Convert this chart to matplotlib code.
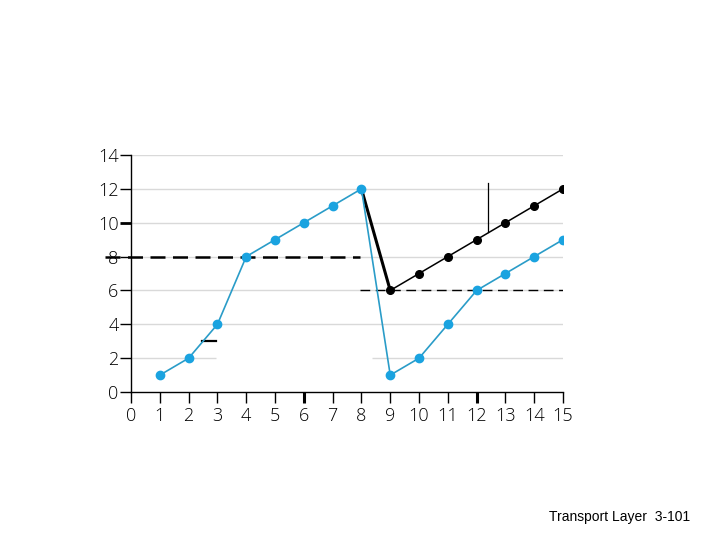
import matplotlib.pyplot as plt

# Data (TCP congestion window, transmission rounds)
rounds_blue = [1, 2, 3, 4, 5, 6, 7, 8, 9, 10, 11, 12, 13, 14, 15]
cwnd_blue = [1, 2, 4, 8, 9, 10, 11, 12, 1, 2, 4, 6, 7, 8, 9]
rounds_black = [8, 9, 10, 11, 12, 13, 14, 15]
cwnd_black = [12, 6, 7, 8, 9, 10, 11, 12]
x_ticks = list(range(0, 16))
y_ticks = list(range(0, 15, 2))

BLUE_LINE = "#2a9cc8"
BLUE_DOT = "#1aa3e0"
GRID = "#d9d9d9"

plt.rcParams["font.family"] = ["Open Sans", "DejaVu Sans"]

fig = plt.figure(figsize=(7.2, 5.4), dpi=100)
ax = fig.add_axes([0.182, 0.274, 0.6, 0.439])
ax.set_xlim(0, 15)
ax.set_ylim(0, 14)

# light horizontal grid
for y in y_ticks[1:]:
    if y == 2:
        ax.hlines(y, 0, 2.95, color=GRID, lw=1, zorder=0)
        ax.hlines(y, 8.35, 15, color=GRID, lw=1, zorder=0)
    else:
        ax.hlines(y, 0, 15, color=GRID, lw=1, zorder=0)

# thresholds
ax.plot([-0.9, 7.95], [8, 8], color="black", lw=1.8, ls=(0, (6, 3)), clip_on=False, zorder=2)
ax.plot([7.95, 15], [6, 6], color="black", lw=1.0, ls=(0, (7, 4)), zorder=2)
ax.plot([2.45, 2.95], [3, 3], color="black", lw=1.6, zorder=2)
ax.plot([12.38, 12.38], [12.35, 9.45], color="black", lw=0.9, zorder=2)

# black curve
ax.plot(rounds_black[:2], cwnd_black[:2], color="black", lw=2.2, zorder=3)
ax.plot(rounds_black[1:], cwnd_black[1:], color="black", lw=1.1, zorder=3)
ax.plot(rounds_black[1:], cwnd_black[1:], ls="none", marker="o", ms=5.5,
        color="black", zorder=4)

# blue curve
ax.plot(rounds_blue, cwnd_blue, color=BLUE_LINE, lw=1.2, marker="o", ms=6,
        markerfacecolor=BLUE_DOT, markeredgecolor=BLUE_DOT, zorder=5)

for s in ["top", "right"]:
    ax.spines[s].set_visible(False)
for s in ["left", "bottom"]:
    ax.spines[s].set_linewidth(1.0)

ax.set_xticks(x_ticks)
ax.set_yticks(y_ticks)
ax.tick_params(axis="both", labelsize=13, length=8, width=1, colors="black")
ax.tick_params(axis="x", pad=3)
ax.tick_params(axis="y", pad=1)
for lbl in ax.get_xticklabels() + ax.get_yticklabels():
    lbl.set_fontweight("light")
for i, t in enumerate(ax.xaxis.get_major_ticks()):
    if x_ticks[i] in (6, 12):
        t.tick1line.set_markeredgewidth(2.2)
for i, t in enumerate(ax.yaxis.get_major_ticks()):
    if y_ticks[i] == 10:
        t.tick1line.set_markeredgewidth(2)

fig.text(0.762, 0.043, "Transport Layer  3-101", family="Liberation Sans",
         fontsize=10, ha="left", va="center")

fig.savefig("out.png", dpi=100, facecolor="white")
